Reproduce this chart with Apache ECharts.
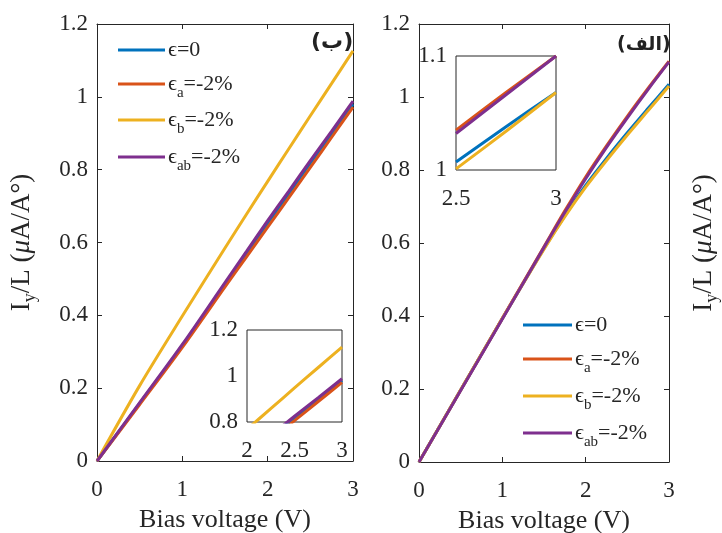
<!DOCTYPE html>
<html><head><meta charset="utf-8">
<script src="https://cdn.jsdelivr.net/npm/echarts@6/dist/echarts.min.js"></script>
<style>html,body{margin:0;padding:0;background:#fff}#c{width:722px;height:533px}</style>
</head><body><div id="c"></div>
<script>
// ---- data ----
const voltage = [0, 0.5, 1, 1.5, 1.75, 2, 2.25, 2.5, 2.75, 3];
// left panel (ب)
const leftE0   = [0, 0.158, 0.317, 0.485, 0.569, 0.653, 0.735, 0.818, 0.899, 0.980];
const leftEa   = [0, 0.155, 0.312, 0.478, 0.560, 0.642, 0.724, 0.806, 0.889, 0.972];
const leftEb   = [0, 0.207, 0.398, 0.585, 0.677, 0.768, 0.858, 0.948, 1.037, 1.126];
const leftEab  = [0, 0.160, 0.320, 0.490, 0.575, 0.660, 0.742, 0.825, 0.906, 0.988];
// right panel (الف)
const rightE0  = [0, 0.197, 0.393, 0.585, 0.675, 0.758, 0.832, 0.902, 0.969, 1.035];
const rightEa  = [0, 0.197, 0.394, 0.590, 0.688, 0.781, 0.866, 0.947, 1.024, 1.098];
const rightEb  = [0, 0.197, 0.393, 0.583, 0.672, 0.753, 0.826, 0.896, 0.963, 1.030];
const rightEab = [0, 0.196, 0.392, 0.588, 0.684, 0.776, 0.862, 0.943, 1.021, 1.096];
// right inset (as drawn, with its own axis labels)
const insetVoltage = [2.5, 2.75, 3];
const insetE0  = [1.007, 1.038, 1.068];
const insetEa  = [1.035, 1.068, 1.100];
const insetEb  = [1.001, 1.034, 1.068];
const insetEab = [1.032, 1.066, 1.100];

const seriesNames = ['ϵ=0', 'ϵa=-2%', 'ϵb=-2%', 'ϵab=-2%'];
const legendRich  = ['{main|ϵ=0}', '{main|ϵ}{sub|a}{main|=-2%}', '{main|ϵ}{sub|b}{main|=-2%}', '{main|ϵ}{sub|ab}{main|=-2%}'];
const colors = ['#0072BD', '#D95319', '#EDB120', '#7E2F8E'];
const xTitle = 'Bias voltage (V)';
const yTitle = '{m|I}{s|y}{m|/L (}{i|μ}{m|A/A°)}';
const panelLabels = ['(ب)', '(الف)'];

// ---- styling / layout ----
const FF = "Liberation Serif, DejaVu Serif, serif";
const AX = '#262626';
const tickFont = 23;
const legendLayout = [
  { x: 118, w: 47, rows: [50, 84, 120, 157] },
  { x: 523, w: 49, rows: [325, 359, 396, 433] }
];

function pairs(xs, ys) { return xs.map((x, i) => [x, ys[i]]); }

function mainX(grid, show) {
  return {
    type: 'value', gridIndex: grid, min: 0, max: 3, interval: 1,
    position: show ? 'bottom' : 'top',
    axisLine: { show: true, onZero: false, lineStyle: { color: AX, width: 1 } },
    axisTick: { show: true, inside: true, length: 5, lineStyle: { color: AX } },
    axisLabel: { show: show, fontFamily: FF, fontSize: tickFont, color: AX, margin: 17 },
    splitLine: { show: false },
    name: show ? xTitle : '', nameLocation: 'middle', nameGap: 46,
    nameTextStyle: { fontFamily: FF, fontSize: 26, color: AX }
  };
}
function mainY(grid, side, withName, nameGap) {
  const isLeft = side === 'left';
  return {
    type: 'value', gridIndex: grid, min: 0, max: 1.2, interval: 0.2,
    position: side,
    axisLine: { show: true, onZero: false, lineStyle: { color: AX, width: 1 } },
    axisTick: { show: true, inside: true, length: 5, lineStyle: { color: AX } },
    axisLabel: { show: isLeft, fontFamily: FF, fontSize: tickFont, color: AX, margin: 9 },
    splitLine: { show: false },
    name: withName ? yTitle : '', nameLocation: 'middle', nameRotate: 90, nameGap: nameGap,
    nameTextStyle: {
      fontFamily: FF, fontSize: 27, color: AX,
      rich: {
        m: { fontFamily: FF, fontSize: 27, lineHeight: 34, color: AX },
        i: { fontFamily: FF, fontSize: 27, lineHeight: 34, fontStyle: 'italic', color: AX },
        s: { fontFamily: FF, fontSize: 18, lineHeight: 18, verticalAlign: 'bottom', color: AX }
      }
    }
  };
}
function insetAxis(grid, min, max, interval, isX) {
  return {
    type: 'value', gridIndex: grid, min: min, max: max, interval: interval,
    position: isX ? 'bottom' : 'left',
    axisLine: { show: false },
    axisTick: { show: false },
    axisLabel: { show: true, fontFamily: FF, fontSize: tickFont, color: AX, margin: isX ? 17 : 9 },
    splitLine: { show: false }
  };
}
function lineSeries(name, data, xi, yi, color, z) {
  return {
    type: 'line', name: name, data: data, xAxisIndex: xi, yAxisIndex: yi,
    symbol: 'none', clip: true, smooth: 0.3, z: z,
    lineStyle: { color: color, width: 3 }, itemStyle: { color: color },
    emphasis: { disabled: true }, animation: false
  };
}

const leftSets  = [leftE0, leftEa, leftEb, leftEab];
const rightSets = [rightE0, rightEa, rightEb, rightEab];
const insetSets = [insetE0, insetEa, insetEb, insetEab];

const series = [];
seriesNames.forEach((n, k) => series.push(lineSeries(n, pairs(voltage, leftSets[k]), 0, 0, colors[k], 2 + k * 0.1)));
seriesNames.forEach((n, k) => series.push(lineSeries(n, pairs(voltage, rightSets[k]), 2, 2, colors[k], 2 + k * 0.1)));
seriesNames.forEach((n, k) => series.push(lineSeries(n, pairs(voltage, leftSets[k]), 4, 4, colors[k], 12 + k * 0.1)));
seriesNames.forEach((n, k) => series.push(lineSeries(n, pairs(insetVoltage, insetSets[k]), 5, 5, colors[k], 12 + k * 0.1)));

// legends (line sample + rich text with real subscripts)
const legendGraphics = [];
legendLayout.forEach(L => {
  seriesNames.forEach((n, k) => {
    const y = L.rows[k];
    legendGraphics.push({
      type: 'line', z: 30, silent: true,
      shape: { x1: L.x, y1: y, x2: L.x + L.w, y2: y },
      style: { stroke: colors[k], lineWidth: 3 }
    });
    legendGraphics.push({
      type: 'text', z: 30, silent: true, x: L.x + L.w + 3, y: y,
      style: {
        text: legendRich[k], align: 'left', verticalAlign: 'middle', fill: AX,
        font: "22px " + FF,
        rich: {
          main: { fontFamily: FF, fontSize: 22, lineHeight: 34, fill: AX },
          sub: { fontFamily: FF, fontSize: 15, lineHeight: 16, verticalAlign: 'bottom', fill: AX }
        }
      }
    });
  });
});

const option = {
  backgroundColor: '#fff',
  animation: false,
  textStyle: { fontFamily: FF },
  grid: [
    { left: 97, top: 24, width: 256, height: 437, containLabel: false, outerBoundsMode: 'none' },
    { left: 419, top: 24, width: 250, height: 438, containLabel: false, outerBoundsMode: 'none' },
    { left: 247, top: 330, width: 95, height: 92, show: true, borderColor: AX, borderWidth: 1, backgroundColor: '#fff', z: 10, containLabel: false, outerBoundsMode: 'none' },
    { left: 456, top: 56, width: 100, height: 114, show: true, borderColor: AX, borderWidth: 1, backgroundColor: '#fff', z: 10, containLabel: false, outerBoundsMode: 'none' }
  ],
  xAxis: [
    mainX(0, true), mainX(0, false), mainX(1, true), mainX(1, false),
    Object.assign(insetAxis(2, 2, 3, 0.5, true), { z: 11 }),
    Object.assign(insetAxis(3, 2.5, 3, 0.5, true), { z: 11 })
  ],
  yAxis: [
    mainY(0, 'left', true, 58), mainY(0, 'right', false, 0),
    mainY(1, 'left', false, 0), mainY(1, 'right', true, 18),
    Object.assign(insetAxis(2, 0.8, 1.2, 0.2, false), { z: 11 }),
    Object.assign(insetAxis(3, 1, 1.1, 0.1, false), { z: 11 })
  ],
  graphic: legendGraphics.concat([
    { type: 'text', left: 311, top: 31, z: 20, style: { text: panelLabels[0], font: "bold 22px 'DejaVu Sans', sans-serif", fill: '#222' } },
    { type: 'text', left: 617, top: 36, z: 20, style: { text: panelLabels[1], font: "bold 19px 'DejaVu Sans', sans-serif", fill: '#222' } }
  ]),
  series: series
};

const chart = echarts.init(document.getElementById('c'), null, { renderer: 'canvas' });
chart.setOption(option);
</script>
</body></html>
